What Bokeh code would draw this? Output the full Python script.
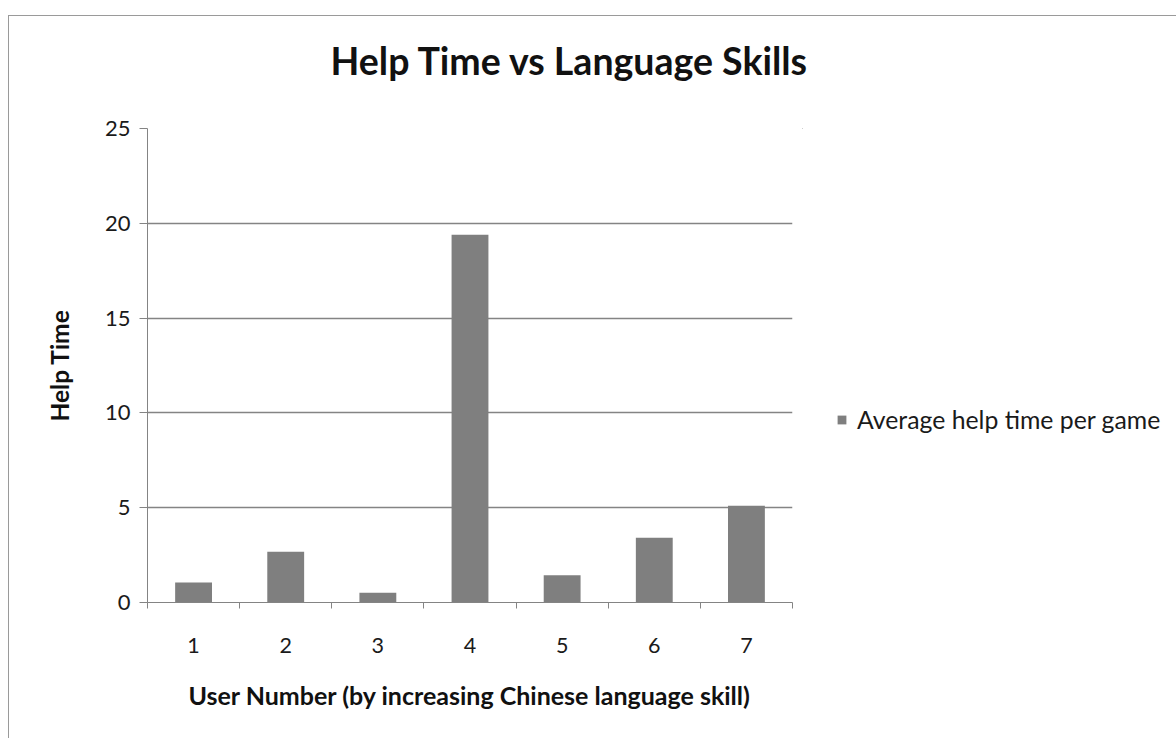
from bokeh.plotting import figure
from bokeh.layouts import row, column
from bokeh.models import (ColumnDataSource, FixedTicker, Legend, LegendItem, Range1d)
from bokeh.embed import file_html
from bokeh.resources import INLINE

users = [1, 2, 3, 4, 5, 6, 7]
help_time = [1.05, 2.68, 0.52, 19.4, 1.44, 3.42, 5.1]
y_ticks = [0, 5, 10, 15, 20, 25]
series_name = "Average help time per game"
title_text = "Help Time vs Language Skills"
x_title = "User Number (by increasing Chinese language skill)"
y_title = "Help Time"

FONT = "Lato"
BAR_COLOR = "#7f7f7f"
AXIS_COLOR = "#848484"
# the chart sits inside a thin chart-area border starting at page (8, 15)
OX, OY = 9, 16
WT = 1176 - OX                 # total width inside the border
H0 = 100 - OY                  # title strip height
H = 738 - 100                  # plot row height
W1 = 793                       # main figure width
W2 = WT - W1                   # legend figure width
FL, FR = 147 - OX, 792 - OX    # frame edges in main figure px
FT, FB = 128 - 100, 602 - 100

src = ColumnDataSource(dict(x=users, top=help_time))

# ---- title strip
p0 = figure(width=WT, height=H0, output_backend="svg", toolbar_location=None,
            x_axis_location=None, y_axis_location=None,
            x_range=Range1d(0, 1), y_range=Range1d(0, 1), min_border=0)
p0.min_border_top = 66
p0.outline_line_color = None
p0.grid.visible = False
p0.title.text = title_text
p0.title.text_font = FONT
p0.title.text_font_size = "37.5px"
p0.title.text_font_style = "bold"
p0.title.text_color = "#111111"
p0.title.align = "left"
p0.title.offset = 330 - OX
p0.title.standoff = 0

# ---- main plot
p = figure(width=W1, height=H, output_backend="svg", toolbar_location=None,
           x_range=Range1d(0.5, 7.5), y_range=Range1d(0, 25),
           min_border_left=FL, min_border_right=W1 - FR,
           min_border_top=FT, min_border_bottom=H - FB)
p.outline_line_color = None
p.background_fill_color = "white"
p.border_fill_color = "white"

r = p.vbar(x="x", top="top", width=0.4, bottom=0, source=src,
           fill_color=BAR_COLOR, line_color=None)

p.xaxis.ticker = FixedTicker(ticks=users, minor_ticks=[u - 0.5 for u in users] + [users[-1] + 0.5])
p.xaxis.major_tick_line_color = None
p.xaxis.major_tick_out = 0
p.xaxis.major_tick_in = 0
p.xaxis.minor_tick_out = 6
p.xaxis.minor_tick_in = 0
p.xaxis.minor_tick_line_color = AXIS_COLOR
p.xaxis.axis_line_color = AXIS_COLOR
p.xaxis.major_label_standoff = 29
p.xaxis.major_label_text_font = FONT
p.xaxis.major_label_text_font_size = "21.5px"
p.xaxis.major_label_text_color = "#1a1a1a"
p.xaxis.axis_label = x_title
p.xaxis.axis_label_text_font = FONT
p.xaxis.axis_label_text_font_size = "25px"
p.xaxis.axis_label_text_font_style = "bold"
p.xaxis.axis_label_text_color = "#111111"
p.xaxis.axis_label_standoff = 24

p.yaxis.ticker = FixedTicker(ticks=y_ticks)
p.yaxis.minor_tick_line_color = None
p.yaxis.major_tick_out = 8
p.yaxis.major_tick_in = 0
p.yaxis.major_tick_line_color = AXIS_COLOR
p.yaxis.axis_line_color = AXIS_COLOR
p.yaxis.major_label_standoff = 9
p.yaxis.major_label_text_font = FONT
p.yaxis.major_label_text_font_size = "22px"
p.yaxis.major_label_text_color = "#1a1a1a"
p.yaxis.axis_label = y_title
p.yaxis.axis_label_text_font = FONT
p.yaxis.axis_label_text_font_size = "24.5px"
p.yaxis.axis_label_text_font_style = "bold"
p.yaxis.axis_label_text_color = "#111111"
p.yaxis.axis_label_standoff = 28

p.xgrid.grid_line_color = None
p.ygrid.grid_line_color = AXIS_COLOR
p.ygrid.grid_line_width = 1.3

# ---- legend panel (axis-less figure; its frame lines up with the main plot's frame)
p2 = figure(width=W2, height=H, output_backend="svg", toolbar_location=None,
            x_axis_location=None, y_axis_location=None,
            x_range=Range1d(100, 101), y_range=Range1d(-2, -1), min_border=0)
p2.outline_line_color = None
p2.grid.visible = False
p2.background_fill_color = "white"
p2.border_fill_color = "white"
# same bars, kept far outside this panel's visible range; only the legend swatch shows
r2 = p2.vbar(x="x", top="top", width=0.4, bottom=0, source=src,
             fill_color=BAR_COLOR, line_color=None)
legend = Legend(items=[LegendItem(label=series_name, renderers=[r2])],
                location=(836 - (OX + W1), 602 - 434),
                glyph_width=11, glyph_height=11, label_standoff=10,
                label_text_font=FONT, label_text_font_size="24.8px",
                label_text_color="#1a1a1a", padding=0, margin=0,
                border_line_color=None, background_fill_alpha=0)
p2.add_layout(legend, "center")

layout = column(p0, row(p, p2))
layout.styles = {"margin-left": "8px", "margin-top": "15px",
                 "border-left": "1px solid #9a9a9a", "border-top": "1px solid #9a9a9a"}

open("out.html", "w").write(file_html(layout, INLINE))
